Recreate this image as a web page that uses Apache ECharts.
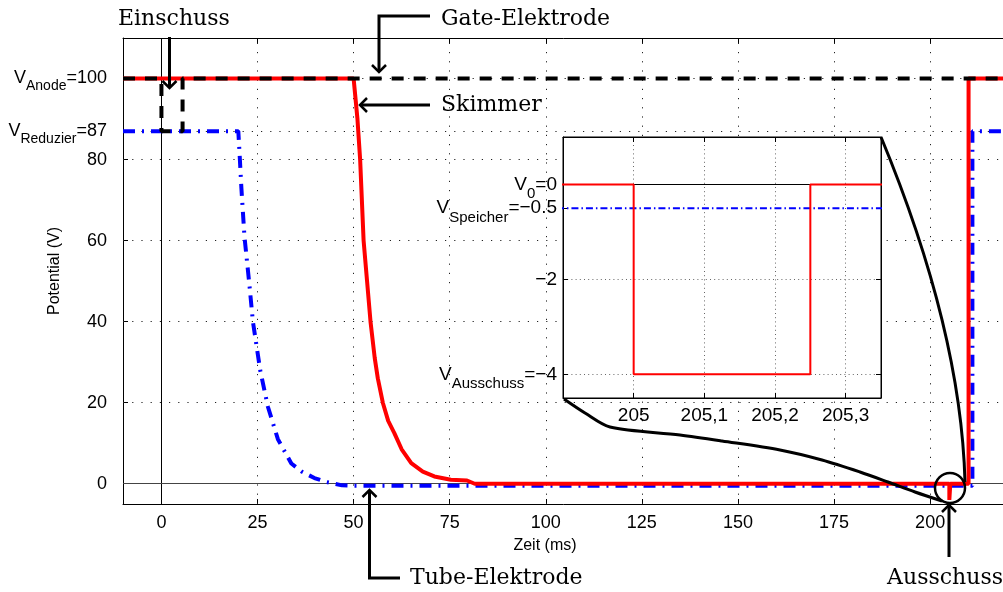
<!DOCTYPE html>
<html>
<head>
<meta charset="utf-8">
<script src="https://cdn.jsdelivr.net/npm/echarts@6/dist/echarts.min.js"></script>
<style>html,body{margin:0;padding:0;background:#fff}#c{width:1003px;height:592px}</style>
</head>
<body>
<div id="c"></div>
<script>
// ---------- data ----------
const xTicks = [0, 25, 50, 75, 100, 125, 150, 175, 200];
const yTicks = [0, 20, 40, 60, 80, 87, 100];
const yTickLabels = ['0', '20', '40', '60', '80', 'V|Reduzier|=87', 'V|Anode|=100'];
const insetXTicks = [205, 205.1, 205.2, 205.3];
const insetXLabels = ['205', '205,1', '205,2', '205,3'];
const insetYTicks = [0, -0.5, -2, -4];
const insetYLabels = ['V|0|=0', 'V|Speicher|=\u22120.5', '\u22122', 'V|Ausschuss|=\u22124'];

// Skimmer (red)
const skimmerT = [-10, 50, 51, 51.7, 52.6, 53.5, 54.4, 55.5, 56.3, 57.6, 59, 60.6, 62.5, 65, 68, 71, 75.3, 79.5, 81.5, 205, 205, 205.25, 205.25, 210, 210, 220];
const skimmerV = [100, 100, 90, 80, 60, 50, 40, 31, 26, 20, 15.5, 12.5, 8.5, 5.1, 3, 1.8, 1, 0.8, 0, 0, -4, -4, 0, 0, 100, 100];
// Tube-Elektrode (blue)
const tubeT = [-10, 20, 20.3, 20.8, 21.6, 22.9, 23.8, 25.7, 27.7, 30.3, 33.8, 36.5, 39.8, 43, 47, 50, 211, 211, 220];
const tubeV = [87, 87, 82, 73, 61, 49, 40, 28, 19, 11, 5, 3, 1.4, 0.4, -0.4, -0.5, -0.5, 87, 87];
// Gate-Elektrode (black dashed)
const gateT = [-10, 0, 0, 5.5, 5.5, 220];
const gateV = [100, 100, 87, 87, 100, 100];

// ---------- helpers ----------
const F = 'Liberation Sans';
const zip = (a, b) => a.map((v, i) => [v, b[i]]);
const find = (arr, v) => arr.findIndex(x => Math.abs(x - v) < 1e-9);
function rich(s) {
  const p = s.split('|');
  if (p.length === 1) return '{n|' + s + '}';
  return '{n|' + p[0] + '}{s|' + p[1] + '}{n|' + p[2] + '}';
}
const dotMain = { type: [1.2, 8], color: '#222', width: 1 };
const dotInset = { type: [1, 3.2], color: '#666', width: 1 };

// inset y labels are split over two overlapping axes so that the close labels (0 and -0.5) both show
const insetYTicksA = insetYTicks.filter((v, i) => i !== 1);
const insetYTicksB = insetYTicks.filter((v, i) => i === 1);

const chart = echarts.init(document.getElementById('c'), null, { renderer: 'canvas' });

const mainMarks = []
  .concat(xTicks.filter(v => v !== 0).map(v => ({ xAxis: v, lineStyle: dotMain })))
  .concat(yTicks.filter(v => v !== 0).map(v => ({ yAxis: v, lineStyle: dotMain })))
  .concat([{ xAxis: 0, lineStyle: { type: 'solid', color: '#000', width: 1 } },
           { yAxis: 0, lineStyle: { type: 'solid', color: '#444', width: 1 } }]);
const insetMarks = []
  .concat(insetXTicks.map(v => ({ xAxis: v, lineStyle: dotInset })))
  .concat([-2, -4].map(v => ({ yAxis: v, lineStyle: dotInset })))
  .concat([{ yAxis: 0, lineStyle: { type: 'solid', color: '#000', width: 1 } }]);

const tickStyle = { color: '#000', width: 1 };
const axLine = { show: true, onZero: false, lineStyle: { color: '#000', width: 1 } };
const insetRich = { n: { fontSize: 19, lineHeight: 34, fontFamily: F, color: '#000' },
                    s: { fontSize: 15, verticalAlign: 'bottom', fontFamily: F, color: '#000' } };
const lab = { hideOverlap: false, showMinLabel: true, showMaxLabel: true, fontFamily: F, color: '#000' };

const option = {
  animation: false,
  backgroundColor: '#fff',
  grid: [
    { left: 123, top: 38, right: -4, bottom: 88, containLabel: false, outerBoundsMode: 'none' },
    { left: 563, top: 137, width: 318, height: 261, containLabel: false, outerBoundsMode: 'none',
      show: true, backgroundColor: '#fff', borderColor: '#000', borderWidth: 1, z: 10 }
  ],
  xAxis: [
    { type: 'value', gridIndex: 0, min: -10, max: 220, position: 'bottom', axisLine: axLine,
      axisTick: { show: true, inside: true, length: 5, customValues: xTicks, lineStyle: tickStyle },
      axisLabel: Object.assign({ customValues: xTicks, margin: 10, fontSize: 18 }, lab),
      splitLine: { show: false },
      name: 'Zeit (ms)', nameLocation: 'middle', nameGap: 34, nameMoveOverlap: false,
      nameTextStyle: { fontSize: 16, fontFamily: F, color: '#000', padding: [0, 40, 0, 0] } },
    { type: 'value', gridIndex: 0, min: -10, max: 220, position: 'top', axisLine: axLine,
      axisTick: { show: true, inside: true, length: 5, customValues: xTicks, lineStyle: tickStyle },
      axisLabel: { show: false }, splitLine: { show: false } },
    { type: 'value', gridIndex: 1, min: 204.9, max: 205.35, position: 'bottom', axisLine: axLine, z: 11,
      axisTick: { show: true, inside: true, length: 5, customValues: insetXTicks, lineStyle: tickStyle },
      axisLabel: Object.assign({ customValues: insetXTicks, margin: 8, fontSize: 19,
        formatter: v => insetXLabels[find(insetXTicks, v)] }, lab),
      splitLine: { show: false } },
    { type: 'value', gridIndex: 1, min: 204.9, max: 205.35, position: 'top', axisLine: axLine, z: 11,
      axisTick: { show: true, inside: true, length: 5, customValues: insetXTicks, lineStyle: tickStyle },
      axisLabel: { show: false }, splitLine: { show: false } }
  ],
  yAxis: [
    { type: 'value', gridIndex: 0, min: -5, max: 110, position: 'left', axisLine: axLine,
      axisTick: { show: true, inside: true, length: 5, customValues: yTicks, lineStyle: tickStyle },
      axisLabel: Object.assign({ customValues: yTicks, margin: 16, fontSize: 18,
        formatter: v => rich(yTickLabels[find(yTicks, v)]),
        rich: { n: { fontSize: 18, lineHeight: 30, fontFamily: F, color: '#000' },
                s: { fontSize: 14, verticalAlign: 'bottom', fontFamily: F, color: '#000' } } }, lab),
      splitLine: { show: false },
      name: 'Potential (V)', nameLocation: 'middle', nameGap: 60, nameMoveOverlap: false,
      nameTextStyle: { fontSize: 16, fontFamily: F, color: '#000' } },
    { type: 'value', gridIndex: 1, min: -4.5, max: 1, position: 'left', axisLine: axLine, z: 11,
      axisTick: { show: true, inside: true, length: 5, customValues: insetYTicksA, lineStyle: tickStyle },
      axisLabel: Object.assign({ customValues: insetYTicksA, margin: 6, fontSize: 19,
        formatter: v => rich(insetYLabels[find(insetYTicks, v)]), rich: insetRich }, lab),
      splitLine: { show: false } },
    { type: 'value', gridIndex: 1, min: -4.5, max: 1, position: 'right', axisLine: axLine, z: 11,
      axisTick: { show: true, inside: true, length: 5, customValues: insetYTicks, lineStyle: tickStyle },
      axisLabel: { show: false }, splitLine: { show: false } },
    { type: 'value', gridIndex: 1, min: -4.5, max: 1, position: 'left', axisLine: { show: false, onZero: false }, z: 11,
      axisTick: { show: true, inside: true, length: 5, customValues: insetYTicksB, lineStyle: tickStyle },
      axisLabel: Object.assign({ customValues: insetYTicksB, margin: 6, fontSize: 19,
        formatter: v => rich(insetYLabels[find(insetYTicks, v)]), rich: insetRich }, lab),
      splitLine: { show: false } }
  ],
  series: [
    { name: 'Tube-Elektrode', type: 'line', xAxisIndex: 0, yAxisIndex: 0, z: 2, showSymbol: false, symbol: 'none',
      data: zip(tubeT, tubeV), lineStyle: { color: '#0000ff', width: 4, type: [12, 7, 2, 7] },
      markLine: { silent: true, symbol: ['none', 'none'], label: { show: false }, animation: false, z: 1, data: mainMarks } },
    { name: 'Skimmer', type: 'line', xAxisIndex: 0, yAxisIndex: 0, z: 3, showSymbol: false, symbol: 'none',
      data: zip(skimmerT, skimmerV), lineStyle: { color: '#ff0000', width: 4, type: 'solid' } },
    { name: 'Gate-Elektrode', type: 'line', xAxisIndex: 0, yAxisIndex: 0, z: 4, showSymbol: false, symbol: 'none',
      data: zip(gateT, gateV), lineStyle: { color: '#000', width: 4, type: [12, 10] } },
    { name: 'Tube inset', type: 'line', xAxisIndex: 2, yAxisIndex: 1, z: 12, showSymbol: false, symbol: 'none',
      data: zip(tubeT, tubeV), lineStyle: { color: '#0000ff', width: 2, type: [7, 3, 1.5, 3] },
      markLine: { silent: true, symbol: ['none', 'none'], label: { show: false }, animation: false, z: 11, data: insetMarks } },
    { name: 'Skimmer inset', type: 'line', xAxisIndex: 2, yAxisIndex: 1, z: 13, showSymbol: false, symbol: 'none',
      data: zip(skimmerT, skimmerV), lineStyle: { color: '#ff0000', width: 2, type: 'solid' } }
  ]
};
chart.setOption(option);

// ---------- annotations ----------
const SF = '22px "DejaVu Serif"';
const black = { stroke: '#000', lineWidth: 3, fill: null };
function line(points, lw) { return { type: 'polyline', z: 100, shape: { points: points }, style: { stroke: '#000', lineWidth: lw || 3, fill: null } }; }
function head(tx, ty, dir) {
  const s = 7;
  let pts;
  if (dir === 'down') pts = [[tx - s, ty - s], [tx, ty], [tx + s, ty - s]];
  else if (dir === 'up') pts = [[tx - s, ty + s], [tx, ty], [tx + s, ty + s]];
  else pts = [[tx + s, ty - s], [tx, ty], [tx + s, ty + s]];
  return line(pts, 2.5);
}
function txt(s, x, y, align) { return { type: 'text', z: 100, style: { text: s, x: x, y: y, font: SF, fill: '#000', textAlign: align || 'left', textVerticalAlign: 'middle' } }; }

chart.setOption({
  graphic: [
    txt('Einschuss', 118, 19),
    line([[169.5, 37], [169.5, 88]]), head(169.5, 88, 'down'),
    txt('Gate-Elektrode', 441, 19),
    line([[430, 16], [379, 16], [379, 72]]), head(379, 72, 'down'),
    txt('Skimmer', 441, 105),
    line([[430, 105], [360, 105]]), head(360, 105, 'left'),
    txt('Tube-Elektrode', 410, 578),
    line([[400, 578], [369.5, 578], [369.5, 490]]), head(369.5, 490, 'up'),
    txt('Ausschuss', 1003, 578, 'right'),
    line([[949, 557], [949, 505]]), head(949, 505, 'up'),
    { type: 'bezierCurve', z: 100, shape: { x1: 881, y1: 137, x2: 965, y2: 482, cpx1: 961, cpy1: 330 }, style: black },
    { type: 'polyline', z: 100, shape: { smooth: 0.3, points: [[564, 399], [585, 413], [610, 427], [680, 435], [722, 441], [780, 450], [822, 460], [860, 472], [888, 482], [915, 492], [942, 501]] }, style: black },
    { type: 'circle', z: 100, shape: { cx: 950, cy: 488, r: 15 }, style: { stroke: '#000', lineWidth: 2.5, fill: null } }
  ]
});
</script>
</body>
</html>
